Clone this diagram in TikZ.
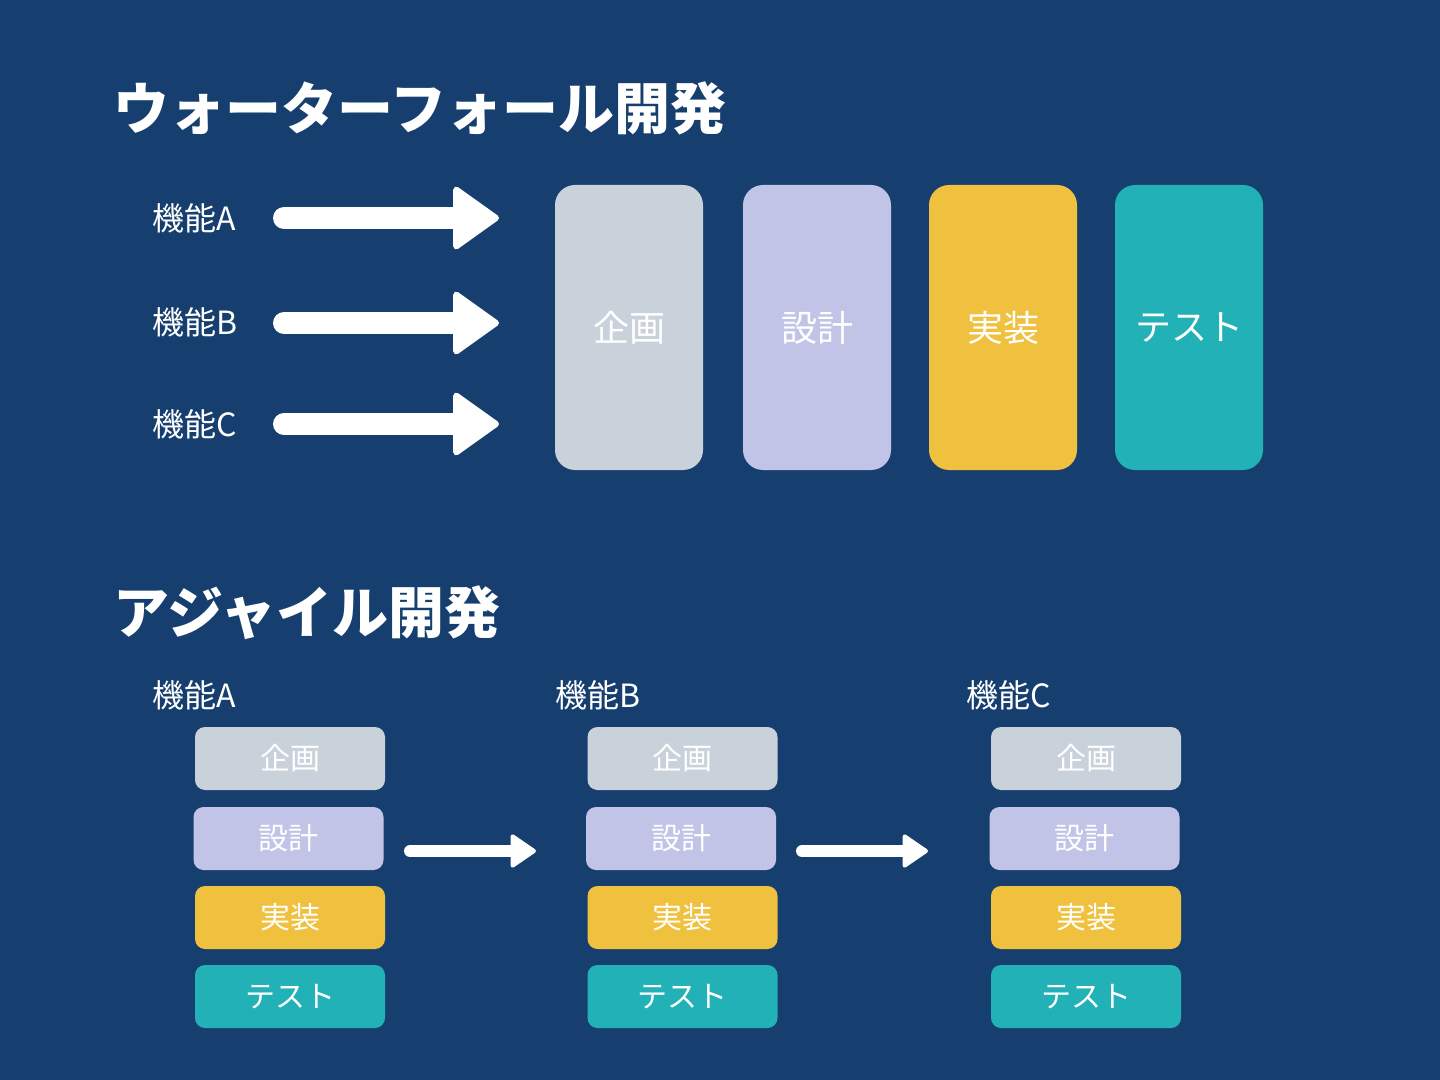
\documentclass[tikz,border=0pt]{standalone}
\usepackage{fontspec}
\setmainfont{Noto Sans CJK JP}
\usetikzlibrary{arrows.meta}
\definecolor{bgblue}{HTML}{163F6F}
\definecolor{plangray}{HTML}{C9D1DA}
\definecolor{designlav}{HTML}{C2C4E7}
\definecolor{buildyel}{HTML}{F0C03F}
\definecolor{testteal}{HTML}{22B1B6}
\begin{document}
\begin{tikzpicture}[x=0.5pt, y=-0.5pt, every node/.style={text=white, inner sep=0pt},
	bigbox/.style={fill=#1, rounded corners=10pt, minimum width=74pt, minimum height=142.5pt, font=\fontsize{18}{21}\selectfont},
	smallbox/.style={fill=#1, rounded corners=5pt, minimum width=95pt, minimum height=31.5pt, font=\fontsize{15}{18}\selectfont},
	fatarrow/.style={white, line width=11pt, line cap=round, -{Triangle[length=24pt, width=33.5pt, line width=3pt, round]}},
	thinarrow/.style={white, line width=6pt, line cap=round, -{Triangle[length=13.5pt, width=18pt, line width=2pt, round]}},
	featlabel/.style={anchor=west, font=\fontsize{16}{19}\selectfont},
	titletext/.style={anchor=west, font=\fontsize{28}{32}\bfseries\selectfont}]
	% 背景
	\fill[bgblue] (0,0) rectangle (1440,1080);
	
	% ウォーターフォール
	\node[titletext] (wftitle) at (113,108) {ウォーターフォール開発};
	
	\node[featlabel] (wfA) at (152,218) {機能A};
	\node[featlabel] (wfB) at (152,322) {機能B};
	\node[featlabel] (wfC) at (152,424) {機能C};
	
	\coordinate (wfAstart) at (284,218);
	\coordinate (wfBstart) at (284,323);
	\coordinate (wfCstart) at (284,424);
	\coordinate (wfAend) at (499,218);
	\coordinate (wfBend) at (499,323);
	\coordinate (wfCend) at (499,424);
	\draw[fatarrow] (wfAstart) -- (wfAend);
	\draw[fatarrow] (wfBstart) -- (wfBend);
	\draw[fatarrow] (wfCstart) -- (wfCend);
	
	\node[bigbox=plangray]  (wfplan)   at (629,327.5)  {企画};
	\node[bigbox=designlav] (wfdesign) at (817,327.5)  {設計};
	\node[bigbox=buildyel]  (wfbuild)  at (1003,327.5) {実装};
	\node[bigbox=testteal]  (wftest)   at (1189,327.5) {テスト};
	
	% アジャイル
	\node[titletext] (agtitle) at (113,613) {アジャイル開発};
	
	\node[featlabel] (agA) at (152,695) {機能A};
	\node[featlabel] (agB) at (555,695) {機能B};
	\node[featlabel] (agC) at (966,695) {機能C};
	
	\node[smallbox=plangray]  (Aplan)   at (290,758.5)   {企画};
	\node[smallbox=designlav] (Adesign) at (288.5,838.5) {設計};
	\node[smallbox=buildyel]  (Abuild)  at (290,917.5)   {実装};
	\node[smallbox=testteal]  (Atest)   at (290,996.5)   {テスト};
	
	\node[smallbox=plangray]  (Bplan)   at (682.5,758.5) {企画};
	\node[smallbox=designlav] (Bdesign) at (681,838.5)   {設計};
	\node[smallbox=buildyel]  (Bbuild)  at (682.5,917.5) {実装};
	\node[smallbox=testteal]  (Btest)   at (682.5,996.5) {テスト};
	
	\node[smallbox=plangray]  (Cplan)   at (1086,758.5)  {企画};
	\node[smallbox=designlav] (Cdesign) at (1084.5,838.5){設計};
	\node[smallbox=buildyel]  (Cbuild)  at (1086,917.5)  {実装};
	\node[smallbox=testteal]  (Ctest)   at (1086,996.5)  {テスト};
	
	\coordinate (ABstart) at (410,851);
	\coordinate (ABend)   at (536,851);
	\coordinate (BCstart) at (802,851);
	\coordinate (BCend)   at (928,851);
	\draw[thinarrow] (ABstart) -- (ABend);
	\draw[thinarrow] (BCstart) -- (BCend);
\end{tikzpicture}
\end{document}
